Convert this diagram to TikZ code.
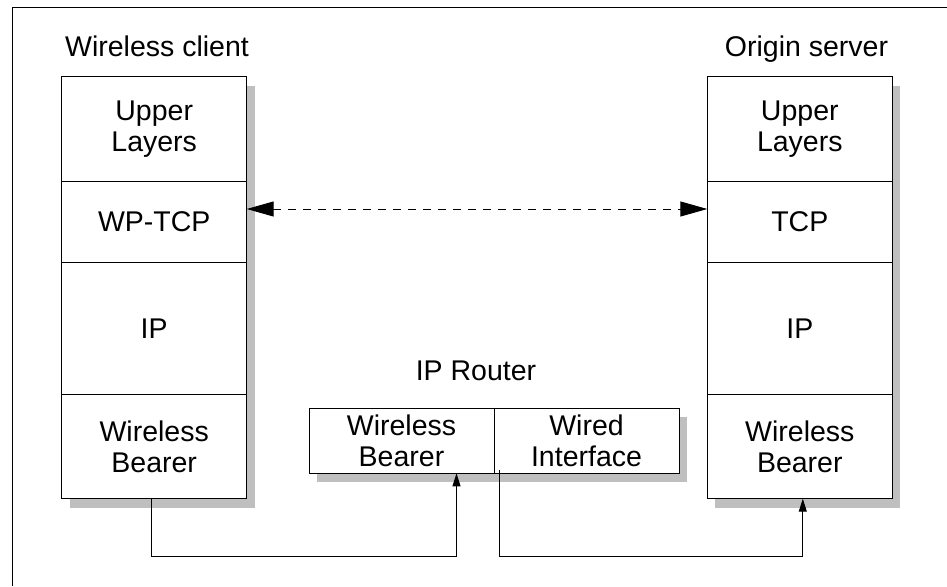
\documentclass[tikz,border=0pt]{standalone}
\usepackage{fontspec}
\setmainfont{Liberation Sans}
\usetikzlibrary{positioning,shadows,arrows.meta}

\begin{document}
\begin{tikzpicture}[x=1pt,y=-1pt,line join=miter,
  every node/.style={inner sep=0pt,outer sep=0pt,font=\fontsize{28.5}{31}\selectfont},
  layer/.style={draw,line width=1pt,fill=white,align=center,minimum width=185pt,
    drop shadow={shadow xshift=8pt,shadow yshift=-9pt,fill=black!25,opacity=1}},
  link/.style={line width=1pt,-{Triangle[length=13pt,width=8pt]}},
  peer/.style={line width=1pt,dash pattern=on 8pt off 7pt,
    {Triangle[length=27pt,width=15pt]}-{Triangle[length=27pt,width=15pt]}}]
  \def\top{76.7}
  \useasboundingbox (0,0) rectangle (947,586);
  \draw[line width=1pt] (12,586) -- (12,8) -- (947,8);
  \node[anchor=base] (clientlbl) at (157,56.7) {Wireless client};
  \node[anchor=base] (serverlbl) at (806.5,56.7) {Origin server};
  \node[anchor=base] (routerlbl) at (476,380) {IP Router};
  \node[layer,minimum height=105pt,anchor=north west] (cul) at (61.7,\top) {Upper\\Layers};
  \node[layer,minimum height=80.6pt,below=0pt of cul] (cwp) {WP-TCP};
  \node[layer,minimum height=132.4pt,below=0pt of cwp] (cip) {IP};
  \node[layer,minimum height=104pt,below=0pt of cip] (cwb) {Wireless\\Bearer};
  \node[layer,minimum height=105pt,anchor=north west] (sul) at (707.3,\top) {Upper\\Layers};
  \node[layer,minimum height=80.6pt,below=0pt of sul] (stcp) {TCP};
  \node[layer,minimum height=132.4pt,below=0pt of stcp] (sip) {IP};
  \node[layer,minimum height=104pt,below=0pt of sip] (swb) {Wireless\\Bearer};
  \node[layer,minimum height=65pt,anchor=north west] (rwb) at (309,408.3) {Wireless\\Bearer};
  \node[layer,minimum height=65pt,right=0pt of rwb] (rwi) {Wired\\Interface};
  \draw[peer] ([yshift=13pt]cwp.east) -- ([yshift=13pt]stcp.west);
  \draw[link] ([xshift=-3pt]cwb.south) -- ++(0,58) -| ([xshift=55pt]rwb.south);
  \draw[link] ([xshift=5pt,yshift=3pt]rwi.south west) -- ++(0,86.4) -| ([xshift=3pt]swb.south);
\end{tikzpicture}
\end{document}
